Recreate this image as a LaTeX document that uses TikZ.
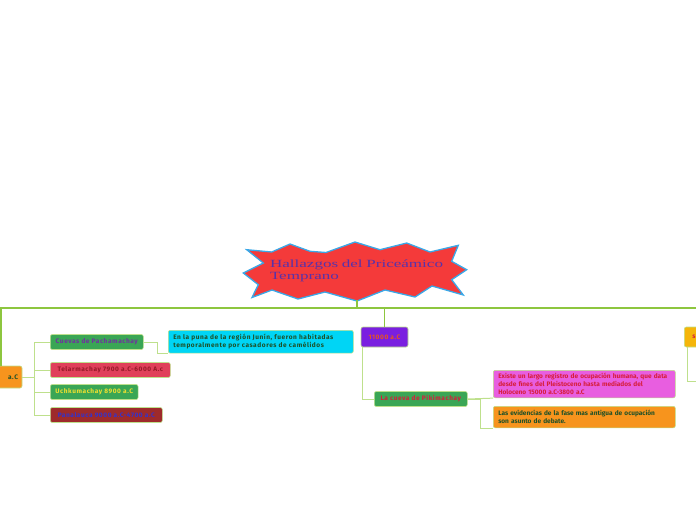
\documentclass[tikz,border=0pt]{standalone}
\usepackage{fontspec}
\setmainfont{Fira Sans}
\newfontfamily\mapfont[LetterSpace=9]{Fira Sans}
\newfontfamily\notefont[LetterSpace=0]{Fira Sans}
\newfontfamily\titlefont[FakeStretch=1.55]{Liberation Serif}
\usepackage{tikz}
\usetikzlibrary{positioning}
\definecolor{trunkgreen}{RGB}{141,198,63}
\definecolor{twiggreen}{RGB}{190,224,140}
\definecolor{burstred}{RGB}{244,58,58}
\definecolor{burstblue}{RGB}{58,168,232}
\definecolor{titlepurple}{RGB}{88,50,170}
\definecolor{ochre}{RGB}{247,148,29}
\definecolor{leafgreen}{RGB}{58,166,85}
\definecolor{rose}{RGB}{224,64,90}
\definecolor{maroon}{RGB}{158,42,43}
\definecolor{skycyan}{RGB}{0,213,245}
\definecolor{violetbox}{RGB}{122,31,224}
\definecolor{magentabox}{RGB}{232,94,224}
\definecolor{amber}{RGB}{245,181,10}
\definecolor{inkgreen}{RGB}{30,80,40}
\definecolor{inkpurple}{RGB}{112,48,160}
\definecolor{inkred}{RGB}{150,26,40}
\definecolor{inkyellow}{RGB}{240,224,48}
\definecolor{inkblue}{RGB}{51,51,204}
\definecolor{inkorange}{RGB}{232,84,30}
\definecolor{inkcrimson}{RGB}{214,30,60}

\tikzset{
  topic/.style={draw=twiggreen,line width=0.6pt,rounded corners=2pt,minimum height=15pt,
                inner xsep=5pt,inner ysep=2pt,font=\mapfont\bfseries\fontsize{6.5}{8}\selectfont},
  note/.style={topic,anchor=north west,align=left,inner xsep=5pt,inner ysep=4pt},
  widenote/.style={note,font=\notefont\bfseries\fontsize{6.5}{8}\selectfont},
  trunk/.style={draw=trunkgreen,line width=1.6pt},
  twig/.style={draw=twiggreen,line width=1pt}
}

\begin{document}
\begin{tikzpicture}[x=1pt,y=-1pt]
  \useasboundingbox (0,0) rectangle (696,520);
  \clip (0,0) rectangle (696,520);

  % central burst
  \draw[fill=burstred,draw=burstblue,line width=1.3pt,line join=miter]
    (246.7,249.7) -- (271.7,252) -- (290,244) -- (310,251.3) -- (326,252.5) -- (355,242)
    -- (380,249.7) -- (406.7,243) -- (430,252) -- (458.3,245.3) -- (451.7,261.3)
    -- (466.7,269.7) -- (451.7,279.7) -- (463.3,295) -- (432,286) -- (415,297)
    -- (385,290) -- (357,301) -- (325,292) -- (298,299) -- (272,290) -- (252,297.5)
    -- (258.3,284.7) -- (243.3,273) -- (263.3,263) -- cycle;
  \node[align=left,text width=174pt,minimum height=58pt,inner sep=0pt,text=titlepurple,
        font=\titlefont\fontsize{11}{12}\selectfont] (title) at (357,271)
    {Hallazgos del Priceámico\\Temprano};

  % first level
  \node[topic,fill=ochre,text=inkgreen,text width=34pt,align=right,inner xsep=4pt,
        minimum height=22pt] (early) at (1,377) {a.C};
  \node[topic,fill=violetbox,text=inkorange,minimum width=47pt,minimum height=20pt]
    (age) at (384.5,337) {11000 a.C};
  \node[topic,fill=amber,text=inkcrimson,anchor=west,text width=40pt,align=left,
        inner xsep=8pt,minimum height=20pt] (later) at (684,337) {s};

  \draw[trunk] (title.south) -- ++(0,8) coordinate (hub);
  \draw[trunk] (hub) -| (early.north);
  \draw[trunk] (hub) -| (age.north);
  \draw[trunk] (hub) -| (later.north);

  % caves
  \foreach \name/\y/\w/\bg/\fg/\txt in {
    cuevas/342/93/leafgreen/inkpurple/{Cuevas de Pachamachay},
    telar/370/120/rose/inkred/{Telarmachay 7900 a.C-6000 A.c},
    uchku/392/80/leafgreen/inkyellow/{Uchkumachay 8900 a.C},
    panal/415/112/maroon/inkblue/{Panalauca 9000 a.C-4700 a.C}}{
    \node[topic,anchor=west,fill=\bg,text=\fg,minimum width=\w pt] (\name) at (50,\y) {\txt};
    \draw[twig] (early.east) -- ++(12,0) |- (\name.west);
  }

  \node[note,fill=skycyan,text=inkgreen,text width=175pt] (puna) at (168,330)
    {En la puna de la región Junín, fueron habitadas\\temporalmente por casadores de camélidos};
  \draw[twig] (cuevas.east) -- ++(14,0) |- (puna.south west);

  % Pikimachay
  \node[topic,anchor=west,fill=leafgreen,text=inkcrimson,minimum width=93pt] (piki) at (374,399)
    {La cueva de Pikimachay};
  \draw[twig] ([xshift=2pt]age.south west) |- (piki.west);

  \node[widenote,fill=magentabox,text=inkcrimson,text width=172pt,inner ysep=3pt] (habitat) at (493,370)
    {Existe un largo registro de ocupación humana, que data\\desde fines del Pleistoceno hasta mediados del\\Holoceno 15000 a.C-3800 a.C};
  \node[widenote,fill=ochre,text=inkgreen,text width=172pt] (debate) at (493,406)
    {Las evidencias de la fase mas antigua de ocupación\\son asunto de debate.};
  \draw[twig] (piki.east) -- (habitat.south west);
  \draw[twig] (piki.east) -- ++(13,0) |- (debate.south west);

  \coordinate (laterkid) at (700,381);
  \draw[twig] ([xshift=3pt]later.south west) |- (laterkid);
\end{tikzpicture}
\end{document}
